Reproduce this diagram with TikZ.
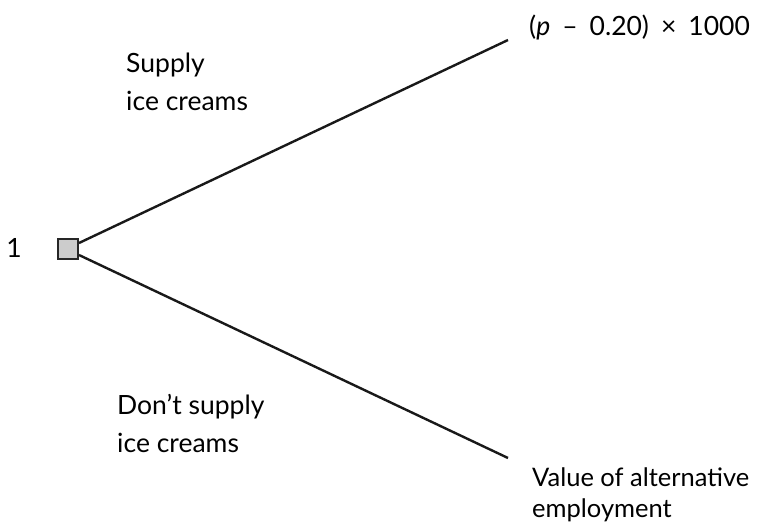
\documentclass[tikz,border=0pt]{standalone}
\usepackage{fontspec}
\setmainfont{Lato}
\newcommand{\gap}{\hspace{12pt}}
\begin{document}
\begin{tikzpicture}[x=1pt,y=-1pt,
  branch/.style={line width=2.4pt, draw=black!90},
  decision/.style={draw=black!85, line width=2pt, fill=black!20, minimum size=20pt, inner sep=0pt},
  lbl/.style={font=\fontsize{26.5}{38}\selectfont, inner sep=0pt, align=left},
  pay/.style={font=\fontsize{25.5}{31}\selectfont, inner sep=0pt, align=left},
]
\useasboundingbox (0,0) rectangle (782,522);
\node[decision] (d) at (68,249) {};
\node[lbl, anchor=base] (pl) at (14,257) {1};
\coordinate (up) at (508,40);
\coordinate (dn) at (508,458);
\draw[branch] (d.north east) ++(0,5) -- (up);
\draw[branch] (d.south east) ++(0,-5) -- (dn);
% multi-line labels are anchored at the baseline of their last line
\node[lbl, anchor=base west] (pay1) at (529,35) {(\textit{p}\gap–\gap0.20)\gap×\gap1000};
\node[pay, anchor=base west] (pay2) at (532,517) {Value of alternative\\employment};
\node[lbl, anchor=base west] (b1) at (126,110) {Supply\\ice creams};
\node[lbl, anchor=base west] (b2) at (117,452) {Don’t supply\\ice creams};
\end{tikzpicture}
\end{document}
